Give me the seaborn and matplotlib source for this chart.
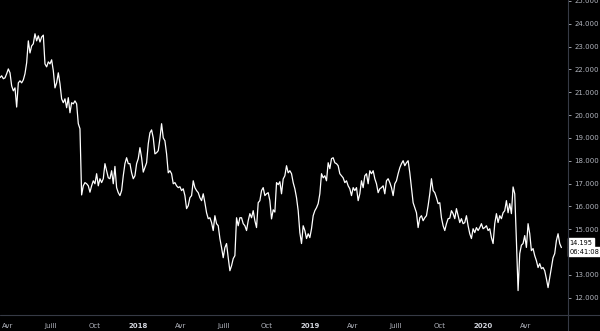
import matplotlib
matplotlib.use("Agg")
import matplotlib.pyplot as plt
import matplotlib.dates as mdates
from matplotlib.lines import Line2D
import matplotlib.transforms as mtransforms
import seaborn as sns
import pandas as pd
import numpy as np

# ---- data ----
start_date = "2017-03-15"
end_date = "2020-06-15"
prices = [
    21.64, 21.72, 21.59, 21.63, 21.81, 22.02, 21.85, 21.28, 21.06, 21.19,
    20.35, 21.41, 21.50, 21.41, 21.54, 21.81, 22.29, 23.25, 22.72, 23.03,
    23.12, 23.56, 23.25, 23.47, 23.20, 23.42, 23.50, 22.24, 22.11, 22.33,
    22.24, 22.42, 21.94, 21.19, 21.41, 21.85, 21.37, 20.71, 20.54, 20.71,
    20.32, 20.76, 20.10, 20.54, 20.49, 20.62, 20.49, 19.62, 19.40, 16.50,
    16.90, 17.04, 16.99, 16.90, 16.62, 16.90, 17.12, 16.99, 17.43, 16.90,
    17.21, 17.04, 17.21, 17.87, 17.56, 17.25, 17.21, 17.56, 16.99, 17.75,
    16.82, 16.60, 16.47, 16.69, 17.34, 17.87, 18.13, 17.87, 17.87, 17.47,
    17.21, 17.34, 17.87, 18.09, 18.57, 18.13, 17.50, 17.71, 17.91, 18.74,
    19.22, 19.35, 19.00, 18.30, 18.35, 18.44, 18.96, 19.62, 19.00, 18.87,
    18.30, 17.47, 17.56, 17.43, 16.99, 17.04, 16.90, 16.82, 16.86, 16.69,
    16.77, 16.47, 15.90, 16.03, 16.38, 16.47, 17.12, 16.82, 16.69, 16.60,
    16.38, 16.25, 16.55, 16.16, 15.72, 15.46, 15.50, 15.29, 14.94, 15.59,
    15.24, 15.15, 14.59, 14.19, 13.75, 14.19, 14.37, 13.75, 13.18, 13.40,
    13.71, 13.84, 15.50, 15.15, 15.50, 15.50, 15.24, 15.15, 14.94, 15.37,
    15.68, 15.50, 15.81, 15.37, 15.07, 16.16, 16.25, 16.69, 16.82, 16.47,
    16.55, 16.60, 16.25, 15.45, 15.85, 15.75, 17.04, 16.95, 17.08, 16.55,
    17.20, 17.34, 17.78, 17.47, 17.56, 17.43, 17.04, 16.77, 16.38, 15.81,
    14.85, 14.37, 15.15, 14.94, 14.59, 14.80, 14.63, 15.02, 15.59, 15.81,
    15.94, 16.12, 16.55, 17.43, 17.25, 17.34, 17.12, 17.91, 17.65, 18.09,
    18.13, 17.91, 17.87, 17.78, 17.43, 17.34, 17.25, 17.04, 17.12, 16.90,
    16.77, 16.47, 16.82, 16.69, 16.82, 16.25, 16.55, 17.12, 16.82, 17.34,
    17.43, 16.99, 17.56, 17.43, 17.56, 17.21, 16.99, 16.60, 16.77, 16.82,
    16.90, 16.55, 17.12, 17.21, 17.04, 16.82, 16.47, 16.99, 17.12, 17.43,
    17.69, 17.87, 18.00, 17.78, 17.91, 18.00, 17.47, 16.82, 16.16, 15.94,
    15.72, 15.07, 15.50, 15.59, 15.37, 15.50, 15.59, 16.03, 16.55, 17.21,
    16.69, 16.60, 16.38, 16.12, 16.16, 15.50, 15.15, 14.94, 15.24, 15.46,
    15.48, 15.81, 15.68, 15.46, 15.90, 15.59, 15.29, 15.46, 15.24, 15.29,
    15.59, 15.15, 14.80, 14.59, 15.02, 14.85, 15.07, 14.94, 15.07, 15.24,
    15.02, 15.07, 15.15, 14.94, 15.02, 14.63, 14.37, 15.24, 15.68, 15.29,
    15.59, 15.46, 15.72, 15.81, 16.25, 15.72, 16.12, 15.68, 16.85, 16.55,
    14.50, 12.31, 13.93, 14.30, 14.37, 14.72, 14.20, 15.24, 14.80, 14.06,
    14.15, 13.84, 13.62, 13.32, 13.49, 13.27, 13.32, 13.18, 12.83, 12.44,
    12.88, 13.32, 13.75, 13.93, 14.50, 14.80, 14.37, 14.195,
]
last_price_label = "14.195"
countdown_label = "06:41:08"
y_ticks = [12, 13, 15, 16, 17, 18, 19, 20, 21, 22, 23, 24, 25]
month_names = {1: None, 4: "Avr", 7: "Juill", 10: "Oct"}
x_range = ("2017-03-15", "2020-06-29")
y_range = (11.24, 25.04)

df = pd.DataFrame({
    "date": pd.date_range(start_date, end_date, periods=len(prices)),
    "price": prices,
})

# ---- style ----
sns.set_style("dark", {"axes.facecolor": "black", "figure.facecolor": "black"})
plt.rcParams["font.family"] = ["DejaVu Sans"]
TXT = "#b2b5be"
AX = "#363a45"

fig = plt.figure(figsize=(6.0, 3.31), dpi=100)
ax = fig.add_axes([0, 16 / 331, 568 / 600, 315 / 331])
ax.set_facecolor("black")

sns.lineplot(data=df, x="date", y="price", ax=ax, color="white", linewidth=0.9)

ax.set_xlim(pd.Timestamp(x_range[0]), pd.Timestamp(x_range[1]))
ax.set_ylim(*y_range)
ax.set_xlabel("")
ax.set_ylabel("")
ax.grid(False)

for s in ["top", "left", "right", "bottom"]:
    ax.spines[s].set_visible(False)

# y axis on the right
ax.yaxis.tick_right()
ax.set_yticks(y_ticks)
ax.set_yticklabels([f"{v:.3f}" for v in y_ticks])
ax.tick_params(axis="y", colors=TXT, labelsize=5.0, length=2.5, width=0.6, pad=2,
               direction="out")

# x axis with French quarter labels
ax.xaxis.set_major_locator(mdates.MonthLocator(bymonth=[1, 4, 7, 10]))

def fmt(x, pos=None):
    d = mdates.num2date(x)
    name = month_names[d.month]
    return str(d.year) if name is None else name

ax.xaxis.set_major_formatter(plt.FuncFormatter(fmt))
ax.tick_params(axis="x", colors=TXT, labelsize=5.0, length=2.5, width=0.6, pad=3,
               direction="out")
for lab, loc in zip(ax.get_xticklabels(), ax.get_xticks()):
    if mdates.num2date(loc).month == 1:
        lab.set_fontweight("bold")
        lab.set_color("#d1d4dc")

# axis border lines across the figure
fig.add_artist(Line2D([0, 1], [16 / 331, 16 / 331], transform=fig.transFigure,
                      color=AX, linewidth=0.8))
fig.add_artist(Line2D([568 / 600, 568 / 600], [0, 1], transform=fig.transFigure,
                      color=AX, linewidth=0.8))

# last price label
trans = mtransforms.blended_transform_factory(ax.transAxes, ax.transData)
last = prices[-1]
ax.text(1.003, last + 0.21, last_price_label, transform=trans, ha="left", va="center",
        fontsize=4.8, color="black", clip_on=False, zorder=10,
        bbox=dict(boxstyle="square,pad=0.2", facecolor="white", edgecolor="white"))
ax.text(1.003, last - 0.18, countdown_label, transform=trans, ha="left", va="center",
        fontsize=4.8, color="black", clip_on=False, zorder=10,
        bbox=dict(boxstyle="square,pad=0.2", facecolor="white", edgecolor="white"))

fig.savefig("out.png", dpi=100, facecolor="black")
